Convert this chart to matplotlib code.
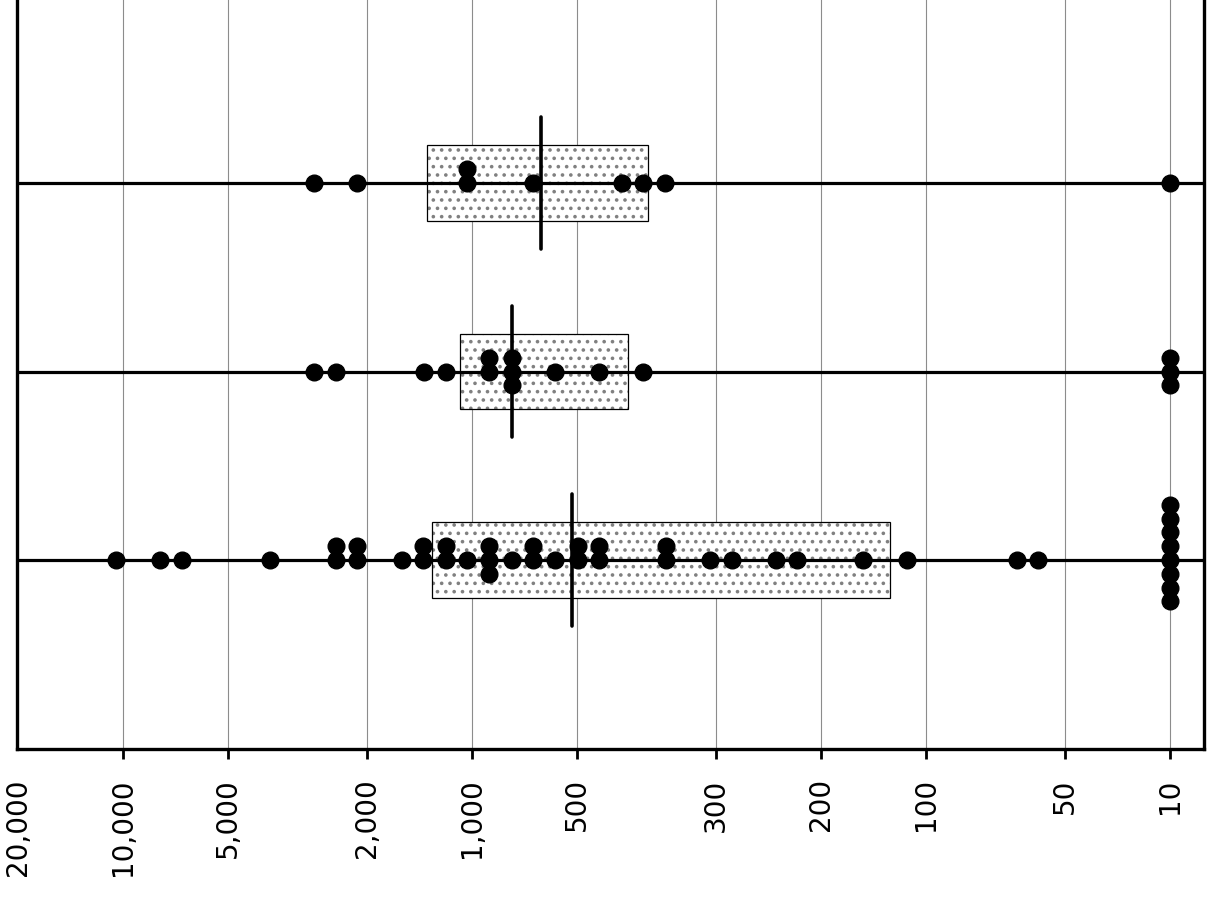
import matplotlib
matplotlib.use("Agg")
import matplotlib.pyplot as plt
from matplotlib.ticker import NullLocator

# valores (escala log); grupo 0 = linha de baixo
valores_g0 = [10450, 7820, 6760, 3785, 2450, 2450, 2133, 2133, 1585, 1380, 1380,
  1186, 1186, 1032, 893, 893, 893, 767, 668, 668, 578, 496, 496, 432, 432,
  278, 278, 208, 180, 134.5, 117, 75.7, 56.7, 27.4, 23.9,
  10, 10, 10, 10, 10, 10, 10, 10]
valores_g1 = [2831, 2450, 1371, 1186, 893, 893, 767, 767, 767, 578, 432, 323, 10, 10, 10]
valores_g2 = [2831, 2133, 1032, 1032, 668, 371.5, 323, 280, 10]

caixa_min = [63.4, 357, 313]
caixa_max = [1300, 1081, 1343]
medianas = [516, 767, 634]

tick_valores = [20000, 10000, 5000, 2000, 1000, 500, 200, 100, 50, 20, 10]
tick_rotulos = ["20,000", "10,000", "5,000", "2,000", "1,000", "500",
  "300", "200", "100", "50", "10"]


def deslocamentos(n, passo=0.073):
  # empilha pontos repetidos: centro, acima, abaixo, acima...
  out = [0.0]
  k = 1
  while len(out) < n:
    out.append(k * passo)
    if len(out) < n:
      out.append(-k * passo)
    k += 1
  return out


plt.rcParams["hatch.linewidth"] = 1.4

fig = plt.figure(figsize=(12.07, 8.99), dpi=100)
ax = fig.add_axes([17 / 1207, 1 - 748.5 / 899, (1203.5 - 17) / 1207, 748.5 / 899])

ax.set_xscale("log")
ax.set_xlim(20080, 8.02)
ax.set_ylim(-1, 2.971)

grupos = [valores_g0, valores_g1, valores_g2]
for i, vals in enumerate(grupos):
  # caixa pontilhada
  ax.barh(i, caixa_max[i] - caixa_min[i], left=caixa_min[i], height=0.4,
    color="white", edgecolor="#808080", hatch="..", linewidth=0, zorder=1)
  ax.barh(i, caixa_max[i] - caixa_min[i], left=caixa_min[i], height=0.4,
    fill=False, edgecolor="black", linewidth=0.9, zorder=1.5)
  ax.axhline(i, color="black", lw=2.3, zorder=2)
  ax.vlines(medianas[i], i - 0.35, i + 0.35, color="black", lw=2.6,
    capstyle="round", zorder=3)

  xs, ys = [], []
  vistos = {}
  for v in vals:
    vistos[v] = vistos.get(v, 0) + 1
  for v, n in vistos.items():
    for d in deslocamentos(n):
      xs.append(v)
      ys.append(i + d)
  ax.plot(xs, ys, "o", color="black", markersize=12, zorder=4, linestyle="none")

# grade e eixos
ax.xaxis.set_minor_locator(NullLocator())
ax.set_xticks(tick_valores, tick_rotulos, rotation=90, fontsize=20)
ax.tick_params(axis="x", direction="out", length=7.5, width=2, pad=14)
ax.set_yticks([])
ax.grid(axis="x", color="#8c8c8c", lw=0.8)
ax.set_axisbelow(True)

primeiro = ax.xaxis.get_major_ticks()[0]
primeiro.tick1line.set_visible(False)
primeiro.gridline.set_visible(False)

for lado in ["left", "right", "bottom"]:
  ax.spines[lado].set_linewidth(2.4)
ax.spines["top"].set_visible(False)

fig.savefig("out.png", dpi=100)
plt.close(fig)
